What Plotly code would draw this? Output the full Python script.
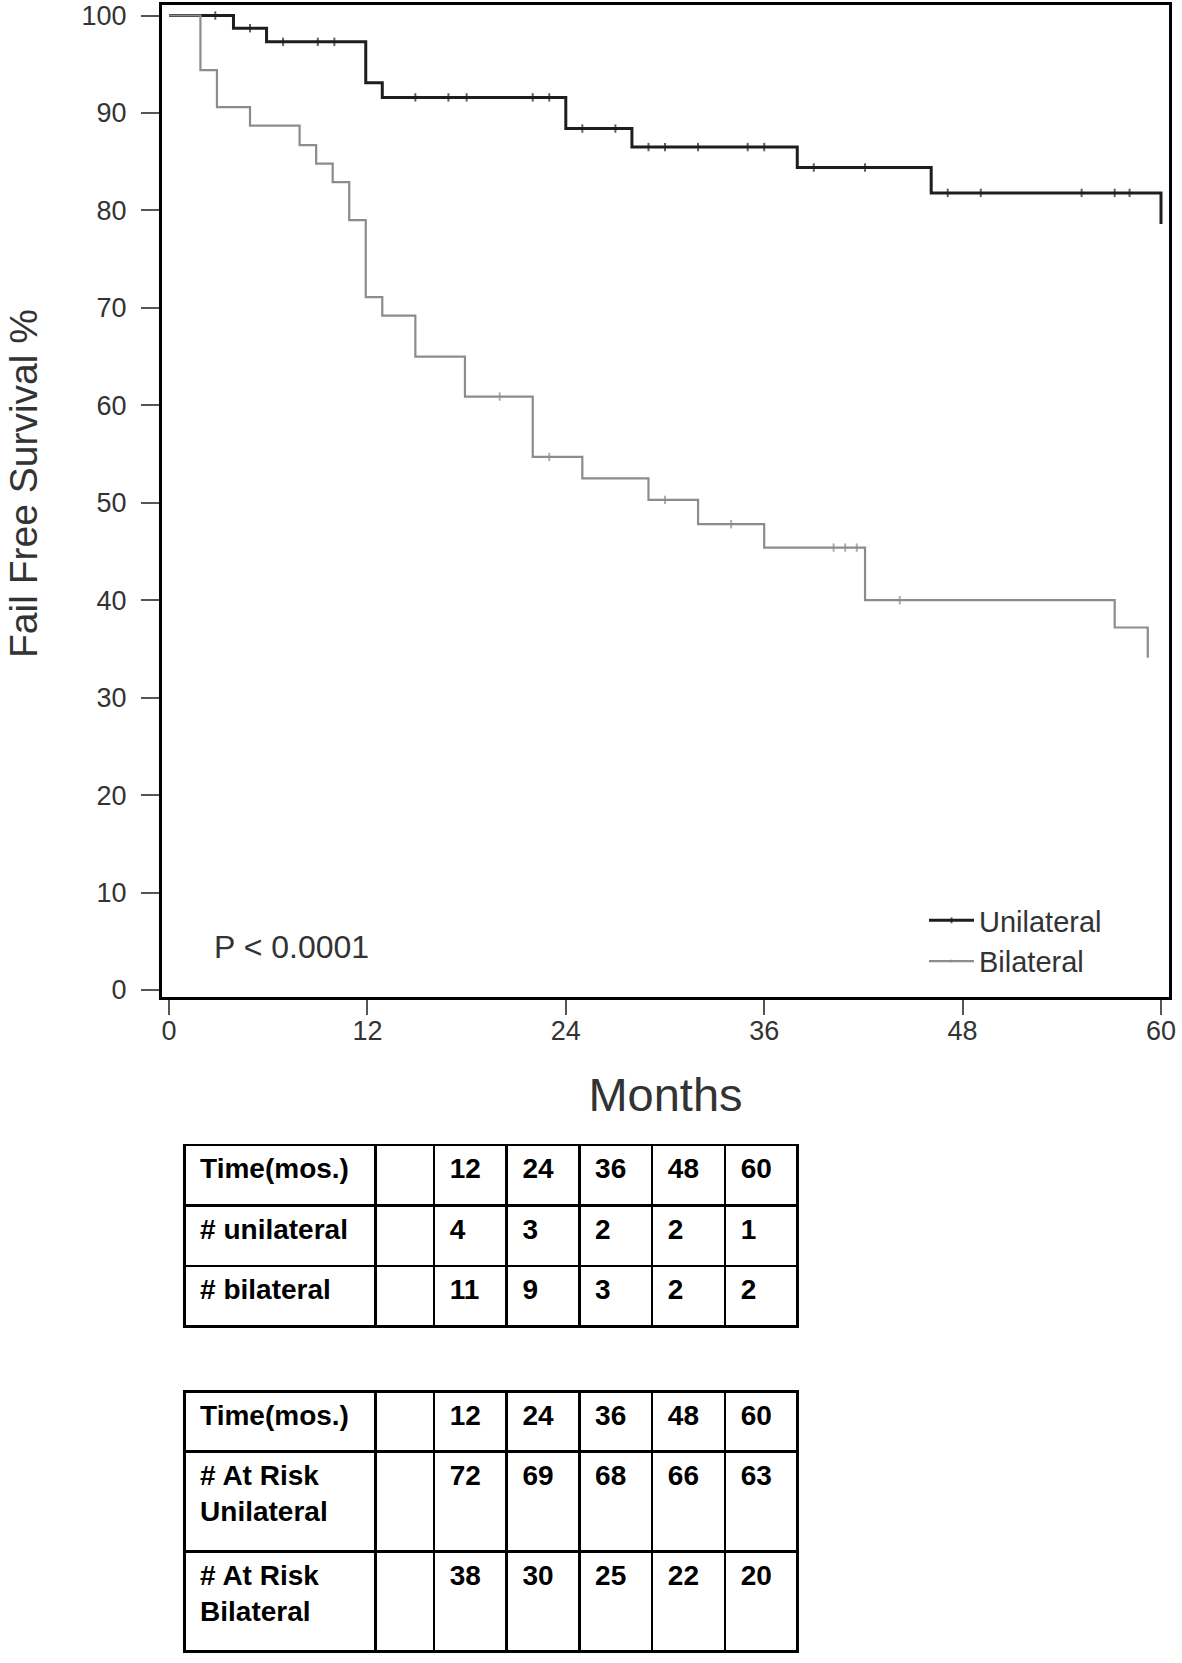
import plotly.graph_objects as go

# ---------------- data ----------------
x_ticks = [0, 12, 24, 36, 48, 60]
y_ticks = [0, 10, 20, 30, 40, 50, 60, 70, 80, 90, 100]

uni_event_times = [3.9, 5.9, 11.9, 12.9, 24.0, 28.0, 38.0, 46.1, 60.0]
uni_event_surv = [98.7, 97.3, 93.1, 91.6, 88.4, 86.5, 84.4, 81.8, 78.6]
uni_censor_times = [2.8, 4.9, 6.9, 9.0, 10.0, 14.9, 16.9, 18.0, 22.0, 23.0,
                    25.0, 27.0, 29.0, 30.0, 32.0, 35.0, 36.0, 39.0, 42.1,
                    47.1, 49.1, 55.2, 57.2, 58.1]

bil_event_times = [1.9, 2.9, 4.9, 7.9, 8.9, 9.9, 10.9, 11.9, 12.9, 14.9,
                   17.9, 22.0, 25.0, 29.0, 32.0, 36.0, 42.1, 57.2, 59.2]
bil_event_surv = [94.4, 90.6, 88.7, 86.7, 84.8, 82.9, 79.0, 71.1, 69.2, 65.0,
                  60.9, 54.7, 52.5, 50.3, 47.8, 45.4, 40.0, 37.2, 34.1]
bil_censor_times = [20.0, 23.0, 30.0, 34.0, 40.2, 40.9, 41.6, 44.2]

table_times = ["12", "24", "36", "48", "60"]
failures_unilateral = [4, 3, 2, 2, 1]
failures_bilateral = [11, 9, 3, 2, 2]
at_risk_unilateral = [72, 69, 68, 66, 63]
at_risk_bilateral = [38, 30, 25, 22, 20]

# ---------------- layout constants ----------------
W, H = 1182, 1663
FONT = "Liberation Sans, Arial, sans-serif"
UNI_COLOR = "#1e1e1e"
BIL_COLOR = "#8c8c8c"


def px_x(x):
    return x / W


def px_y(y):
    return min(1.0, max(0.0, 1 - y / H))


def km_points(ev_t, ev_s, cens_t):
    pts = [(0.0, 100.0, False)]
    for t, s in zip(ev_t, ev_s):
        pts.append((t, s, False))
    for c in cens_t:
        level = 100.0
        for t, s in zip(ev_t, ev_s):
            if t <= c:
                level = s
        pts.append((c, level, True))
    pts.sort(key=lambda p: p[0])
    return ([p[0] for p in pts], [p[1] for p in pts],
            [6 if p[2] else 0 for p in pts])


fig = go.Figure()

for name, et, es, ct, col, lw in [
    ("Unilateral", uni_event_times, uni_event_surv, uni_censor_times, UNI_COLOR, 3),
    ("Bilateral", bil_event_times, bil_event_surv, bil_censor_times, BIL_COLOR, 2.2),
]:
    xs, ys, sz = km_points(et, es, ct)
    fig.add_trace(go.Scatter(
        x=xs, y=ys, mode="lines+markers", name=name,
        line=dict(color=col, width=lw, shape="hv"),
        marker=dict(symbol="line-ns-open", size=sz, color=col,
                    line=dict(width=2, color=col)),
        xaxis="x", yaxis="y",
    ))

PAD = "\u00a0"


def col_values(label_col, *num_rows):
    cols = [[PAD + "<b>" + l.replace("<br>", "</b><br>" + PAD + "<b>") + "</b>"
             for l in label_col], ["" for _ in label_col]]
    for j in range(len(num_rows[0])):
        cols.append([f"{PAD}<b>{r[j]}</b>" for r in num_rows])
    return cols


col_widths = [191, 58.7, 72.7, 72.7, 72.7, 73, 72.3]
tbl_font = dict(family=FONT, size=28, color="black")
tbl_line = dict(color="black", width=2.5)
header_vals = [PAD + "<b>Time(mos.)</b>", ""] + [f"{PAD}<b>{t}</b>" for t in table_times]

fig.add_trace(go.Table(
    columnwidth=col_widths,
    domain=dict(x=[px_x(184.3), px_x(797.3)], y=[px_y(1345), px_y(1145)]),
    header=dict(values=header_vals, align="left", font=tbl_font, line=tbl_line,
                fill=dict(color="white"), height=60.5),
    cells=dict(values=col_values(["# unilateral", "# bilateral"],
                                 failures_unilateral, failures_bilateral),
               align="left", font=tbl_font, line=tbl_line,
               fill=dict(color="white"), height=60.5),
))

fig.add_trace(go.Table(
    columnwidth=col_widths,
    domain=dict(x=[px_x(184.3), px_x(797.3)], y=[0, px_y(1391.7)]),
    header=dict(values=header_vals, align="left", font=tbl_font, line=tbl_line,
                fill=dict(color="white"), height=60),
    cells=dict(values=col_values(["# At Risk<br>Unilateral", "# At Risk<br>Bilateral"],
                                 at_risk_unilateral, at_risk_bilateral),
               align="left", font=tbl_font, line=tbl_line,
               fill=dict(color="white"), height=100),
))

fig.add_annotation(
    x=2.6, y=4.45, xref="x", yref="y", text="P &lt; 0.0001", showarrow=False,
    xanchor="left", yanchor="middle",
    font=dict(family=FONT, size=32, color="#333333"),
)

# y-axis title
fig.add_annotation(
    x=px_x(23), y=px_y(484), xref="paper", yref="paper",
    text="Fail Free Survival %", textangle=-90, showarrow=False,
    xanchor="center", yanchor="middle",
    font=dict(family=FONT, size=39, color="#333333"),
)

fig.update_layout(
    width=W, height=H,
    margin=dict(l=0, r=0, t=0, b=0),
    paper_bgcolor="white", plot_bgcolor="white",
    font=dict(family=FONT, color="#333333"),
    showlegend=True,
    legend=dict(x=px_x(924), y=px_y(895), xanchor="left", yanchor="top",
                font=dict(family=FONT, size=29, color="#333333"),
                bgcolor="rgba(0,0,0,0)", itemwidth=45, tracegroupgap=0),
    xaxis=dict(
        domain=[px_x(162), px_x(1169)], range=[-0.4235, 60.484],
        tickvals=x_ticks, ticks="outside", ticklen=15, tickwidth=2,
        tickcolor="#555555", showline=True, linecolor="black", linewidth=3,
        mirror=True, showgrid=False, zeroline=False,
        tickfont=dict(family=FONT, size=27, color="#333333"),
        ticklabelstandoff=-7, ticklabeloverflow="allow",
        title=dict(text="Months", font=dict(family=FONT, size=47, color="#333333"),
                   standoff=33),
        automargin=False, anchor="y",
    ),
    yaxis=dict(
        domain=[px_y(997), px_y(5)], range=[-0.718, 101.08],
        tickvals=y_ticks, ticks="outside", ticklen=18, tickwidth=2,
        tickcolor="#555555", showline=True, linecolor="black", linewidth=3,
        mirror=True, showgrid=False, zeroline=False,
        tickfont=dict(family=FONT, size=27, color="#333333"),
        ticklabelstandoff=9, ticklabeloverflow="allow",
        automargin=False, anchor="x",
    ),
)

# the page body's default 8px margin would offset the figure; remove it
fig.write_html("out.html", config={"displayModeBar": False},
               post_script="document.body.style.margin='0px';")
